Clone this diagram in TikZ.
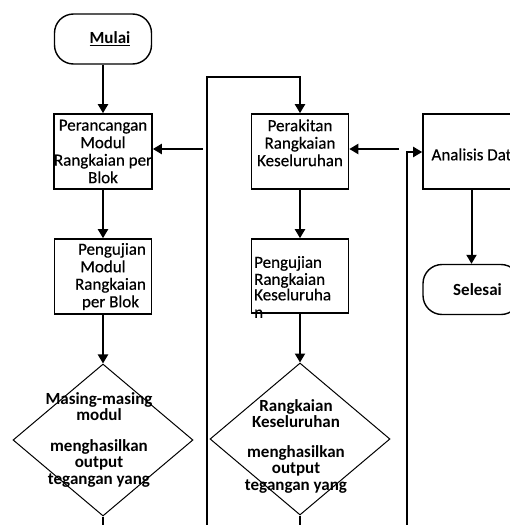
\documentclass[tikz,border=0pt]{standalone}
\usepackage{fontspec}
\setmainfont{Carlito}
\usetikzlibrary{shapes.geometric,arrows.meta}
\begin{document}
\begin{tikzpicture}[x=1pt,y=-1pt,
  every node/.style={font=\fontsize{17}{17.5}\selectfont\addfontfeature{FakeBold=0.4}},
  box/.style={draw, line width=1.6pt, minimum width=97pt, minimum height=75pt, inner sep=0pt, align=center},
  term/.style={draw, line width=1.4pt, rounded corners=19pt, minimum width=97pt, minimum height=50pt, inner sep=0pt, font=\fontsize{17}{17.5}\selectfont\bfseries},
  dia/.style={draw, diamond, line width=1pt, minimum width=180pt, minimum height=152pt, inner sep=0pt},
  dtext/.style={align=center, inner sep=0pt, font=\fontsize{17}{16.5}\selectfont\bfseries},
  ttext/.style={align=left, inner sep=0pt},
  arr/.style={line width=2pt, line join=miter, -{Triangle[length=9pt,width=10pt]}},
  ln/.style={line width=2pt}
]
\useasboundingbox (0,0) rectangle (510,525);
\fill[white] (0,0) rectangle (510,525);
\clip (0,0) rectangle (510,525);

% left column
\node[term] (mulai) at (103,39) {\hspace*{14pt}\underline{Mulai}};
\node[box] (b1) at (103,151.5) {Perancangan\\Modul\\Rangkaian per\\Blok};
\node[box] (b2) at (103,276.5) {\hspace*{18pt}Pengujian\\Modul\hspace*{7pt}\\\hspace*{15pt}Rangkaian\\\hspace*{15pt}per Blok};
\node[dia] (d1) at (103,440) {};
\node[dtext] (t1) at (99,439.5) {Masing-masing\\modul\\[14pt]menghasilkan\\output\\tegangan yang};

% middle column
\node[box] (b3) at (300,151.5) {Perakitan\\Rangkaian\\Keseluruhan\\\mbox{}};
\node[box, minimum height=74pt] (b5) at (300,276) {};
\node[ttext, anchor=west] (t5) at (254,287) {Pengujian\\[-0.5pt]Rangkaian\\[-2pt]Keseluruha\\[0pt]n};
\node[dia] (d2) at (300,439) {};
\node[dtext] (t2) at (296,446) {Rangkaian\\Keseluruhan\\[13pt]menghasilkan\\output\\tegangan yang};

% right column
\node[box] (b4) at (471.5,151.5) {\mbox{}\\\mbox{}\\Analisis Dat\hspace*{14pt}\\\mbox{}};
\node[term] (sel) at (471.5,289.5) {\hspace*{12pt}Selesai};

% free ends
\coordinate (e1) at (103,530);
\coordinate (e2) at (300,530);
\coordinate (l1) at (207,530);
\coordinate (l2) at (207,77);
\coordinate (l3) at (407,530);
\coordinate (l4) at (407,152);
\coordinate (f1) at (203,149);
\coordinate (f2) at (399,149);

% connectors
\draw[arr] (mulai) -- (b1);
\draw[arr] (b1) -- (b2);
\draw[arr] (b2) -- (d1);
\draw[ln] (d1.south) -- (e1);
\draw[arr] (l1) -- (l2) -| (b3.north);
\draw[arr] (f1) -- (f1 -| b1.east);
\draw[arr] (b3) -- (b5);
\draw[arr] (b5) -- (d2);
\draw[ln] (d2.south) -- (e2);
\draw[arr] (f2) -- (f2 -| b3.east);
\draw[arr] (l3) -- (l4) -- (l4 -| b4.west);
\draw[arr] (b4) -- (sel);
\end{tikzpicture}
\end{document}
